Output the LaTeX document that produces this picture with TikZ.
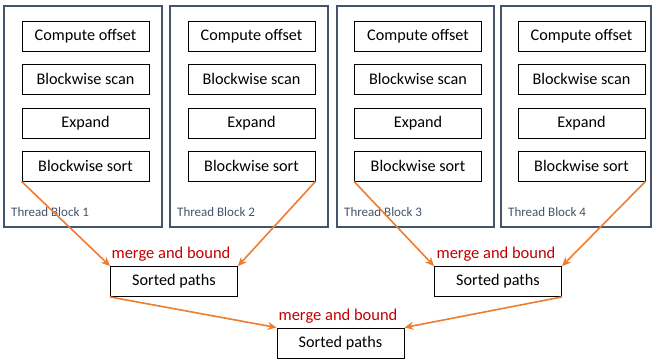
\documentclass[tikz,border=0pt]{standalone}
\usepackage{fontspec}
\setmainfont{Carlito}
\usetikzlibrary{arrows.meta}
\definecolor{slate}{HTML}{44546A}
\definecolor{flow}{HTML}{ED7D31}
\definecolor{note}{HTML}{C00000}
\tikzset{
  blockframe/.style={draw=slate, line width=2.4pt},
  stage/.style={draw=black, line width=0.9pt, minimum width=127pt, minimum height=30pt, inner sep=0pt, font=\fontsize{16.2}{19}\selectfont},
  blocklabel/.style={text=slate, anchor=west, inner sep=0pt, font=\fontsize{13}{15}\selectfont},
  notelabel/.style={text=note, anchor=south, inner sep=0pt, font=\fontsize{16.5}{19}\selectfont},
  flowline/.style={draw=flow, line width=1.6pt, -{Stealth[length=9pt,width=8pt,inset=3pt]}}
}
\begin{document}
\begin{tikzpicture}[x=1pt, y=-1pt]
\useasboundingbox (0,0) rectangle (653,362);
% four thread blocks with their stages
\foreach \i/\l/\r/\c in {1/4/162/85.5, 2/170/328/251.5, 3/337/494/418, 4/501/651/581.5} {
  \draw[blockframe] (\l,6) rectangle (\r,227);
  \node[stage] (co\i) at (\c,36) {Compute offset};
  \node[stage] (bs\i) at (\c,79) {Blockwise scan};
  \node[stage] (ex\i) at (\c,123) {Expand};
  \node[stage] (so\i) at (\c,166) {Blockwise sort};
  \node[blocklabel] (tb\i) at (\l+7,212) {Thread Block \i};
}
% merge levels
\node[stage] (sp1) at (174,281.5) {Sorted paths};
\node[stage] (sp2) at (498,281.5) {Sorted paths};
\node[stage] (sp3) at (340.5,343) {Sorted paths};
\node[notelabel] (mb1) at (171,262) {merge and bound};
\node[notelabel] (mb2) at (496,262) {merge and bound};
\node[notelabel] (mb3) at (338,324) {merge and bound};
% connectors
\draw[flowline] (so1.south west) -- (sp1.north west);
\draw[flowline] (so2.south east) -- (sp1.north east);
\draw[flowline] (so3.south west) -- (sp2.north west);
\draw[flowline] (so4.south east) -- (sp2.north east);
\draw[flowline] (sp1.south west) -- (sp3.north west);
\draw[flowline] (sp2.south east) -- (sp3.north east);
\end{tikzpicture}
\end{document}
